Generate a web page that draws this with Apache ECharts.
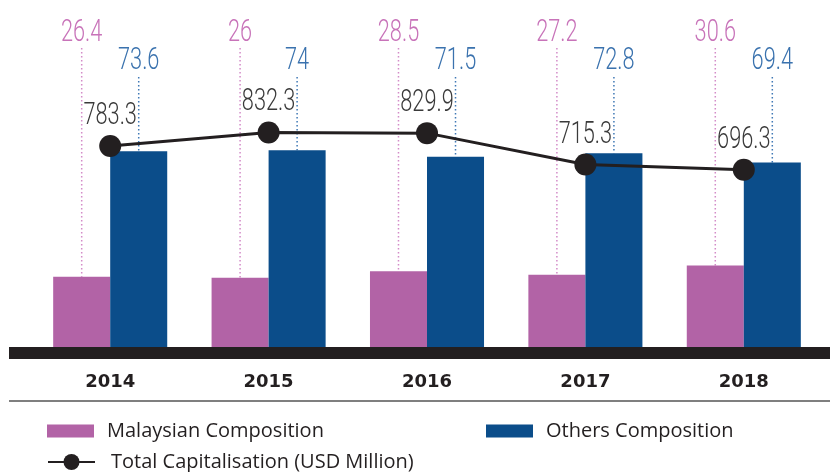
<!DOCTYPE html>
<html>
<head>
<meta charset="utf-8">
<script src="https://cdn.jsdelivr.net/npm/echarts@6/dist/echarts.min.js"></script>
<style>
  html, body { margin: 0; padding: 0; background: #fff; }
  #main { width: 830px; height: 472px; }
</style>
</head>
<body>
<div id="main"></div>
<script>
var years = ['2014', '2015', '2016', '2017', '2018'];
var malaysian = [26.4, 26, 28.5, 27.2, 30.6];
var others = [73.6, 74, 71.5, 72.8, 69.4];
var totalCap = [783.3, 832.3, 829.9, 715.3, 696.3];

var PURPLE = '#b263a6';
var BLUE = '#0b4d8a';
var DARK = '#231f20';
var GAP = 0.28;   // barCategoryGap

var numFont = 'Roboto';
var legendFont = 'Open Sans';

function valueText(x, y, txt, color) {
    return {
        type: 'text',
        x: x,
        y: y,
        scaleX: 0.68,
        scaleY: 1,
        style: {
            text: txt,
            fill: color,
            font: '300 32px ' + numFont,
            align: 'center',
            verticalAlign: 'middle'
        }
    };
}

// side: -1 left bar (Malaysian), +1 right bar (Others)
function barLabelRenderer(side, color, lineColor, textOff, lineOff) {
    return function (params, api) {
        var i = api.value(0);
        var v = api.value(1);
        var c = api.coord([i, v]);
        var band = api.size([1, 0])[0];
        var bw = band * (1 - GAP) / 2;
        var x = c[0] + side * bw / 2;
        var top = params.coordSys.y;
        return {
            type: 'group',
            children: [
                {
                    type: 'line',
                    shape: { x1: x, y1: top + lineOff, x2: x, y2: c[1] },
                    style: { stroke: lineColor, lineWidth: 1.5, lineDash: [1.5, 2.5] }
                },
                valueText(x, top + textOff, String(v), color)
            ]
        };
    };
}

function drawChart() {
    var myChart = echarts.init(document.getElementById('main'));
    var legendText = { fontFamily: legendFont, fontSize: 20, color: DARK, padding: [0, 0, 0, 8] };
    var option = {
        animation: false,
        grid: { left: 31, right: 7, top: 81, bottom: 125 },
        xAxis: {
            type: 'category',
            data: years,
            axisLine: { show: false },
            axisTick: { show: false },
            axisLabel: {
                margin: 26,
                fontFamily: 'DejaVu Sans',
                fontWeight: 'bold',
                fontSize: 18,
                color: DARK
            }
        },
        yAxis: [
            { type: 'value', min: 0, max: 100, show: false, splitLine: { show: false } },
            { type: 'value', min: 50, max: 1020, show: false, splitLine: { show: false } }
        ],
        legend: [
            {
                data: [{ name: 'Malaysian Composition', icon: 'rect' }],
                left: 47, top: 421, padding: 0,
                itemWidth: 47, itemHeight: 13,
                textStyle: legendText
            },
            {
                data: [{ name: 'Others Composition', icon: 'rect' }],
                left: 486, top: 421, padding: 0,
                itemWidth: 47, itemHeight: 13,
                textStyle: legendText
            },
            {
                data: ['Total Capitalisation (USD Million)'],
                left: 47, top: 452, padding: 0,
                itemWidth: 47, itemHeight: 20,
                textStyle: { fontFamily: legendFont, fontSize: 20, color: DARK, padding: [0, 0, 0, 11] }
            }
        ],
        graphic: [
            { type: 'rect', shape: { x: 9, y: 347, width: 821, height: 12 }, style: { fill: DARK }, z: 10 },
            { type: 'line', shape: { x1: 9, y1: 401, x2: 830, y2: 401 }, style: { stroke: '#555', lineWidth: 1.3 } }
        ],
        series: [
            {
                name: 'Malaysian Composition',
                type: 'bar',
                data: malaysian,
                barGap: 0,
                barCategoryGap: (GAP * 100) + '%',
                itemStyle: { color: PURPLE },
                z: 2
            },
            {
                name: 'Others Composition',
                type: 'bar',
                data: others,
                barGap: 0,
                barCategoryGap: (GAP * 100) + '%',
                itemStyle: { color: BLUE },
                z: 2
            },
            {
                type: 'custom',
                data: malaysian.map(function (v, i) { return [i, v]; }),
                renderItem: barLabelRenderer(-1, '#c873b9', '#d38bc8', -48, -33),
                z: 1,
                silent: true
            },
            {
                type: 'custom',
                data: others.map(function (v, i) { return [i, v]; }),
                renderItem: barLabelRenderer(1, '#3a72ae', '#3f78b5', -20, -4),
                z: 1,
                silent: true
            },
            {
                name: 'Total Capitalisation (USD Million)',
                type: 'line',
                yAxisIndex: 1,
                data: totalCap,
                symbol: 'circle',
                symbolSize: 22,
                itemStyle: { color: DARK },
                lineStyle: { color: DARK, width: 3 },
                z: 5
            },
            {
                type: 'custom',
                yAxisIndex: 1,
                data: totalCap.map(function (v, i) { return [i, v]; }),
                renderItem: function (params, api) {
                    var c = api.coord([api.value(0), api.value(1)]);
                    return valueText(c[0], c[1] - 30, String(api.value(1)), '#3a3a3a');
                },
                z: 4,
                silent: true
            }
        ]
    };
    myChart.setOption(option);
}

drawChart();
</script>
</body>
</html>
